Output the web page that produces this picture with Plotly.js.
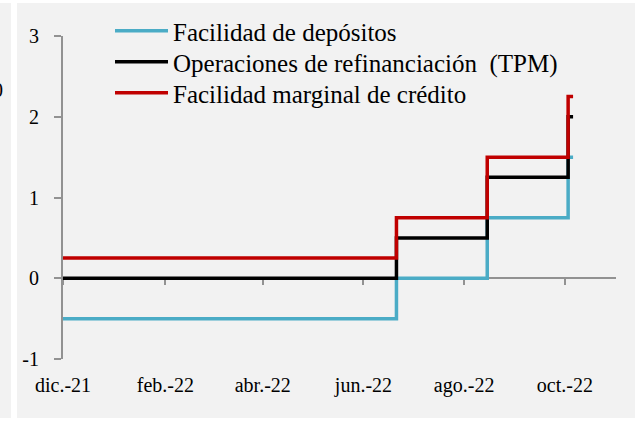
<!DOCTYPE html>
<html>
<head>
<meta charset="utf-8">
<script src="https://cdn.plot.ly/plotly-3.0.1.min.js"></script>
<style>
  html, body { margin: 0; padding: 0; background: #ffffff; }
  #wrap { position: relative; width: 635px; height: 421px; overflow: hidden; }
  #strip { position: absolute; left: 0; top: 3px; width: 11px; height: 415px; background: #f2f2f2; overflow: hidden; }
  #strip span { position: absolute; left: -7px; top: 76px; font-family: "Liberation Serif", serif; font-size: 20px; color: #000; }
  #panel { position: absolute; left: 17px; top: 3px; width: 618px; height: 415px; background: #f2f2f2; }
  #chart { position: absolute; left: 0; top: 0; width: 635px; height: 421px; }
</style>
</head>
<body>
<div id="wrap">
  <div id="strip"><span>0</span></div>
  <div id="panel"></div>
  <div id="chart"></div>
</div>
<script>
// Dates at which the official rates change (step changes)
const dates = ['2021-12-01', '2022-06-21', '2022-08-15', '2022-10-03', '2022-10-06'];
// Rates (%)
const facilidadDepositos = [-0.5, 0.0, 0.75, 1.5, 1.5];
const operacionesRefinanciacion = [0.0, 0.5, 1.25, 2.0, 2.0];
const facilidadMarginal = [0.25, 0.75, 1.5, 2.25, 2.25];

const seriesNames = ['Facilidad de depósitos', 'Operaciones de refinanciación\u00a0 (TPM)', 'Facilidad marginal de crédito'];
const seriesColors = ['#4bacc6', '#000000', '#c00000'];

// axis ticks and labels
const tickDates = ['2021-12-01', '2022-02-01', '2022-04-01', '2022-06-01', '2022-08-01', '2022-10-01'];
const tickLabels = ['dic.-21', 'feb.-22', 'abr.-22', 'jun.-22', 'ago.-22', 'oct.-22'];
const yTicks = [-1, 0, 1, 2, 3];
const yTickLabels = ['-1', '0', '1', '2', '3'];

const FONT = '"Liberation Serif", "Times New Roman", serif';
const AXIS_COLOR = '#929292';

// geometry (pixels) of the figure
const W = 635, H = 421;
const M = { l: 63, r: 19, t: 3, b: 62 };
const plotTopPx = 36;                       // top of the y axis
const regionH = H - M.t - M.b;              // plotting region height
const regionBottomPx = H - M.b;
const yDomainTop = (regionBottomPx - plotTopPx) / regionH;
const yMin = -1, yMax = 3;
const yPx = v => regionBottomPx - (v - yMin) / (yMax - yMin) * (regionBottomPx - plotTopPx);
const fracFromPx = px => (regionBottomPx - px) / regionH;

const legendNames = ['legend', 'legend2', 'legend3'];
const legendRowPx = [31, 62, 93];

const seriesValues = [facilidadDepositos, operacionesRefinanciacion, facilidadMarginal];
const traces = seriesValues.map((vals, i) => ({
  type: 'scatter',
  mode: 'lines',
  x: dates,
  y: vals,
  name: seriesNames[i],
  legend: legendNames[i],
  line: { color: seriesColors[i], width: 3.5, shape: 'hv' },
  hoverinfo: 'skip'
}));
// helper (empty) trace so the crossing x axis at y = 0 is drawn
traces.push({ type: 'scatter', mode: 'lines', x: [], y: [], xaxis: 'x2', yaxis: 'y', showlegend: false, hoverinfo: 'skip' });

const layout = {
  width: W,
  height: H,
  paper_bgcolor: 'rgba(0,0,0,0)',
  plot_bgcolor: 'rgba(0,0,0,0)',
  margin: { l: M.l, r: M.r, t: M.t, b: M.b, pad: 0 },
  font: { family: FONT, size: 20, color: '#000000' },
  showlegend: true,
  xaxis: {
    type: 'date',
    range: ['2021-12-01', '2022-11-01'],
    tickmode: 'array',
    tickvals: tickDates,
    ticktext: tickLabels,
    ticks: '',
    showline: false,
    showgrid: false,
    zeroline: false,
    tickfont: { family: FONT, size: 20, color: '#000000' },
    ticklabelstandoff: 12,
    fixedrange: true
  },
  xaxis2: {
    type: 'date',
    overlaying: 'x',
    matches: 'x',
    anchor: 'free',
    position: fracFromPx(yPx(0)),
    tickmode: 'array',
    tickvals: tickDates,
    ticks: 'outside',
    ticklen: 6,
    tickwidth: 2,
    tickcolor: AXIS_COLOR,
    showline: true,
    linecolor: AXIS_COLOR,
    linewidth: 2,
    showgrid: false,
    zeroline: false,
    showticklabels: false,
    layer: 'below traces',
    fixedrange: true
  },
  yaxis: {
    domain: [0, yDomainTop],
    range: [yMin, yMax],
    tickmode: 'array',
    tickvals: yTicks,
    ticktext: yTickLabels,
    ticks: 'outside',
    ticklen: 7,
    tickwidth: 2,
    tickcolor: AXIS_COLOR,
    showline: true,
    linecolor: AXIS_COLOR,
    linewidth: 2,
    showgrid: false,
    zeroline: false,
    tickfont: { family: FONT, size: 20, color: '#000000' },
    ticklabelstandoff: 11,
    layer: 'below traces',
    fixedrange: true
  }
};

legendNames.forEach((ln, i) => {
  layout[ln] = {
    x: 0.085, y: fracFromPx(legendRowPx[i]), xanchor: 'left', yanchor: 'middle',
    bgcolor: 'rgba(0,0,0,0)',
    font: { family: FONT, size: 25, color: '#000000' },
    itemwidth: 53
  };
});

Plotly.newPlot('chart', traces, layout, { displayModeBar: false, staticPlot: true });
</script>
</body>
</html>
